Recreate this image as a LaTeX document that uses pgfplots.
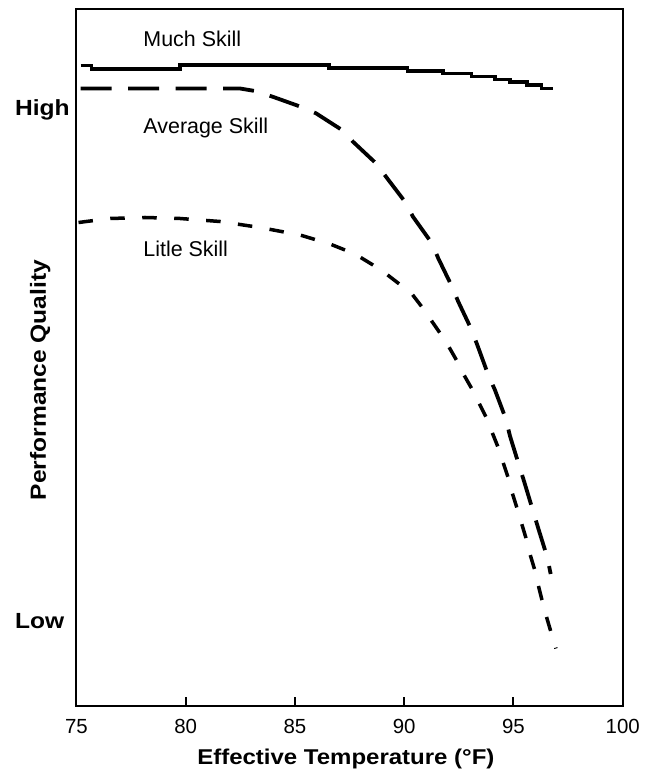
\documentclass[border=0pt]{standalone}
\usepackage{fontspec}
\setmainfont{Liberation Sans}
\newfontfamily\bw{Liberation Sans}[FakeStretch=1.12]
\usepackage{pgfplots}
\pgfplotsset{compat=1.18}
\begin{document}
\begin{tikzpicture}
\begin{axis}[
  scale only axis,
  width=546.2bp, height=696.7bp,
  xmin=75, xmax=100, ymin=0, ymax=696.7,
  xtick={75,80,85,90,95,100},
  ytick=\empty,
  xtick pos=bottom,
  tick align=inside,
  major tick length=8.3bp,
  axis line style={line width=2bp, black},
  tick style={line width=2bp, black},
  /pgf/number format/assume math mode=true,
  xticklabel style={font=\fontsize{20.5}{24}\selectfont, yshift=-10.5bp},
  clip=false,
]
% Much Skill (stepped solid)
\addplot[black, line width=3.3bp, const plot mark left, line cap=butt] coordinates {
(75.192,640.2) (75.696,636.7) (79.737,640.7) (86.556,637.7) (90.149,634.7)
(91.773,632.2) (93.087,629.0) (94.153,626.2) (94.840,623.7) (95.618,620.7)
(96.291,617.4) (96.794,617.4)
};
% Average Skill (long dashes)
\addplot[black, line width=3.8bp, dash pattern=on 31bp off 16.5bp, line cap=butt] coordinates {
(75.188,617.2) (82.483,617.2) (83.169,614.7) (83.947,609.2) (85.229,599.2)
(85.961,592.4) (87.151,575.7) (87.654,564.0) (88.707,542.4) (89.164,529.0)
(90.034,504.0) (90.400,489.0) (91.270,462.4) (91.558,447.4) (92.172,419.7)
(92.474,404.0) (93.087,375.7) (93.362,359.7) (93.847,330.7) (94.153,315.7)
(94.657,286.4) (94.840,269.7) (95.265,239.7) (95.481,224.7) (95.906,194.0)
(96.135,177.4) (96.547,148.4) (96.703,131.7)
};
% Little Skill (short dashes)
\addplot[black, line width=3.5bp, dash pattern=on 14.5bp off 17.5bp, line cap=butt] coordinates {
(75.092,483.2) (76.533,487.2) (78.135,488.2) (79.737,487.2) (81.568,484.2)
(83.398,478.2) (85.229,470.7) (86.602,461.7) (87.746,451.7) (88.570,440.7)
(89.211,431.2) (89.805,421.2) (90.355,411.7) (90.812,398.7) (91.224,385.7)
(91.636,372.7) (92.048,358.7) (92.414,344.7) (92.735,330.7) (93.101,316.7)
(93.421,302.7) (93.741,288.7) (94.016,273.7) (94.291,258.7) (94.519,243.7)
(94.748,228.7) (94.931,213.7) (95.160,197.7) (95.366,182.7) (95.572,167.7)
(95.755,151.7) (95.961,136.7) (96.121,121.7) (96.304,105.7) (96.487,90.7)
(96.716,73.7) (96.945,57.2)
};
\node[anchor=base west, inner sep=0pt, font=\fontsize{21.5}{26}\selectfont] at (axis cs:78.057,659) {Much Skill};
\node[anchor=base west, inner sep=0pt, font=\fontsize{21.5}{26}\selectfont] at (axis cs:78.057,572.4) {Average Skill};
\node[anchor=base west, inner sep=0pt, font=\fontsize{21.5}{26}\selectfont] at (axis cs:78.057,449) {Litle Skill};
\node[anchor=base west, inner sep=0pt, font=\bw\bfseries\fontsize{22}{26}\selectfont] at ([xshift=-61.5bp]axis cs:75,590) {High};
\node[anchor=base west, inner sep=0pt, font=\bw\bfseries\fontsize{22}{26}\selectfont] at ([xshift=-61.5bp]axis cs:75,77.4) {Low};
\node[anchor=base, inner sep=0pt, rotate=90, font=\bw\bfseries\fontsize{22}{26}\selectfont] at ([xshift=-30.5bp]axis cs:75,325.7) {Performance Quality};
\node[anchor=base, inner sep=0pt, font=\bw\bfseries\fontsize{21.5}{26}\selectfont] at ([yshift=-58.3bp]axis cs:87.33,0) {Effective Temperature (°F)};
\end{axis}
\path (current axis.south west) ++(-76.5bp,-66.3bp) rectangle ++(648bp,772bp);
\end{tikzpicture}
\end{document}
